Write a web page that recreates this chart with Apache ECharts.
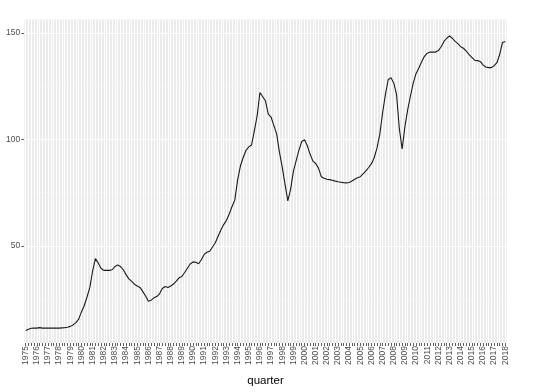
<!DOCTYPE html>
<html>
<head>
<meta charset="utf-8">
<script src="https://cdn.jsdelivr.net/npm/echarts@6/dist/echarts.min.js"></script>
<style>html,body{margin:0;padding:0;background:#fff}#c{width:550px;height:392px}</style>
</head>
<body>
<div id="c"></div>
<script>
// tick labels (one per year, shown at Q1)
const years = ["1975","1976","1977","1978","1979","1980","1981","1982","1983","1984","1985","1986","1987","1988","1989","1990","1991","1992","1993","1994","1995","1996","1997","1998","1999","2000","2001","2002","2003","2004","2005","2006","2007","2008","2009","2010","2011","2012","2013","2014","2015","2016","2017","2018"];
const quarterNames = ["Q1","Q2","Q3","Q4"];
// quarterly values 1975Q1 .. 2018Q1
const values = [
10.3,10.9,11.3,11.4, 11.4,11.6,11.4,11.4, 11.4,11.4,11.4,11.4, 11.4,11.5,11.6,11.8,
12.2,12.9,14.0,15.6, 19.0,22.0,26.0,30.5, 38.2,44.0,42.0,39.5, 38.5,38.5,38.5,38.8,
40.3,41.0,40.3,38.8, 36.5,34.5,33.3,32.0, 31.2,30.5,28.5,26.5, 24.0,24.5,25.6,26.2,
27.5,30.0,30.9,30.5, 31.2,32.1,33.5,35.0, 35.6,37.5,39.5,41.5, 42.5,42.3,41.6,43.5,
46.0,47.0,47.5,49.5, 51.5,54.5,57.5,60.0, 62.0,65.0,68.5,71.5, 81.0,87.5,91.5,94.8,
96.5,97.4,104.0,111.0, 122.0,120.0,118.0,111.9, 110.5,106.5,102.6,94.0, 87.0,79.0,71.1,76.5,
85.0,90.0,95.0,99.0, 99.8,97.0,93.0,89.8, 88.7,86.5,82.5,81.8, 81.3,81.1,80.8,80.4,
80.1,79.9,79.7,79.6, 79.8,80.5,81.3,82.0, 82.5,83.8,85.2,86.8, 88.6,91.5,96.0,102.5,
112.5,121.0,128.0,129.0, 126.5,121.0,105.0,95.5, 106.0,114.0,120.5,126.5, 131.0,133.5,136.5,139.0,
140.5,141.0,141.0,141.0, 141.7,143.5,146.0,147.5, 148.6,147.5,146.0,145.0, 143.5,142.8,141.5,139.8,
138.5,137.2,137.0,136.6, 135.0,134.0,133.7,133.7, 134.6,136.0,140.0,145.5,
146.0
];
const yMajor = [50, 100, 150];
const yMinor = [25, 75, 125];

const categories = [];
for (let y = 0; y < years.length; y++) {
  for (let q = 0; q < 4; q++) {
    if (categories.length < values.length) categories.push(years[y] + " " + quarterNames[q]);
  }
}

const gridLines = [];
categories.forEach(c => gridLines.push({xAxis: c, lineStyle: {color: '#ffffff', width: 1, type: 'solid'}}));
yMinor.forEach(v => gridLines.push({yAxis: v, lineStyle: {color: '#f6f6f6', width: 0.6, type: 'solid'}}));
yMajor.forEach(v => gridLines.push({yAxis: v, lineStyle: {color: '#ffffff', width: 1, type: 'solid'}}));

const chart = echarts.init(document.getElementById('c'), null, {renderer: 'canvas'});
chart.setOption({
  animation: false,
  textStyle: {fontFamily: 'Liberation Sans, Arial, sans-serif'},
  grid: {left: 24.3, right: 43.3, top: 19.5, bottom: 46, show: true, backgroundColor: '#EBEBEB', borderWidth: 0},
  xAxis: {
    type: 'category',
    data: categories,
    boundaryGap: true,
    name: 'quarter',
    nameLocation: 'middle',
    nameGap: 32,
    nameTextStyle: {color: '#000', fontSize: 11.5},
    axisLine: {show: false},
    axisTick: {show: true, interval: 0, alignWithLabel: true, length: 3, lineStyle: {color: '#333', width: 0.8}},
    axisLabel: {
      interval: (idx) => idx % 4 === 0,
      formatter: (v) => v.slice(0, 4),
      rotate: 90,
      margin: 3,
      fontSize: 8.5,
      color: '#4D4D4D'
    },
    splitLine: {show: false}
  },
  yAxis: {
    type: 'value',
    min: 4.4,
    max: 156.3,
    axisLine: {show: false},
    axisTick: {show: true, length: 3, customValues: yMajor, lineStyle: {color: '#333', width: 0.8}},
    axisLabel: {customValues: yMajor, margin: 4, fontSize: 8.5, color: '#4D4D4D'},
    splitLine: {show: false}
  },
  series: [
    {
      type: 'line',
      data: values,
      silent: true,
      symbol: 'none',
      lineStyle: {opacity: 0},
      z: 1,
      markLine: {silent: true, symbol: 'none', label: {show: false}, animation: false, data: gridLines}
    },
    {
      type: 'line',
      data: values,
      symbol: 'none',
      z: 5,
      lineStyle: {color: '#1a1a1a', width: 1.1}
    }
  ]
});
</script>
</body>
</html>
